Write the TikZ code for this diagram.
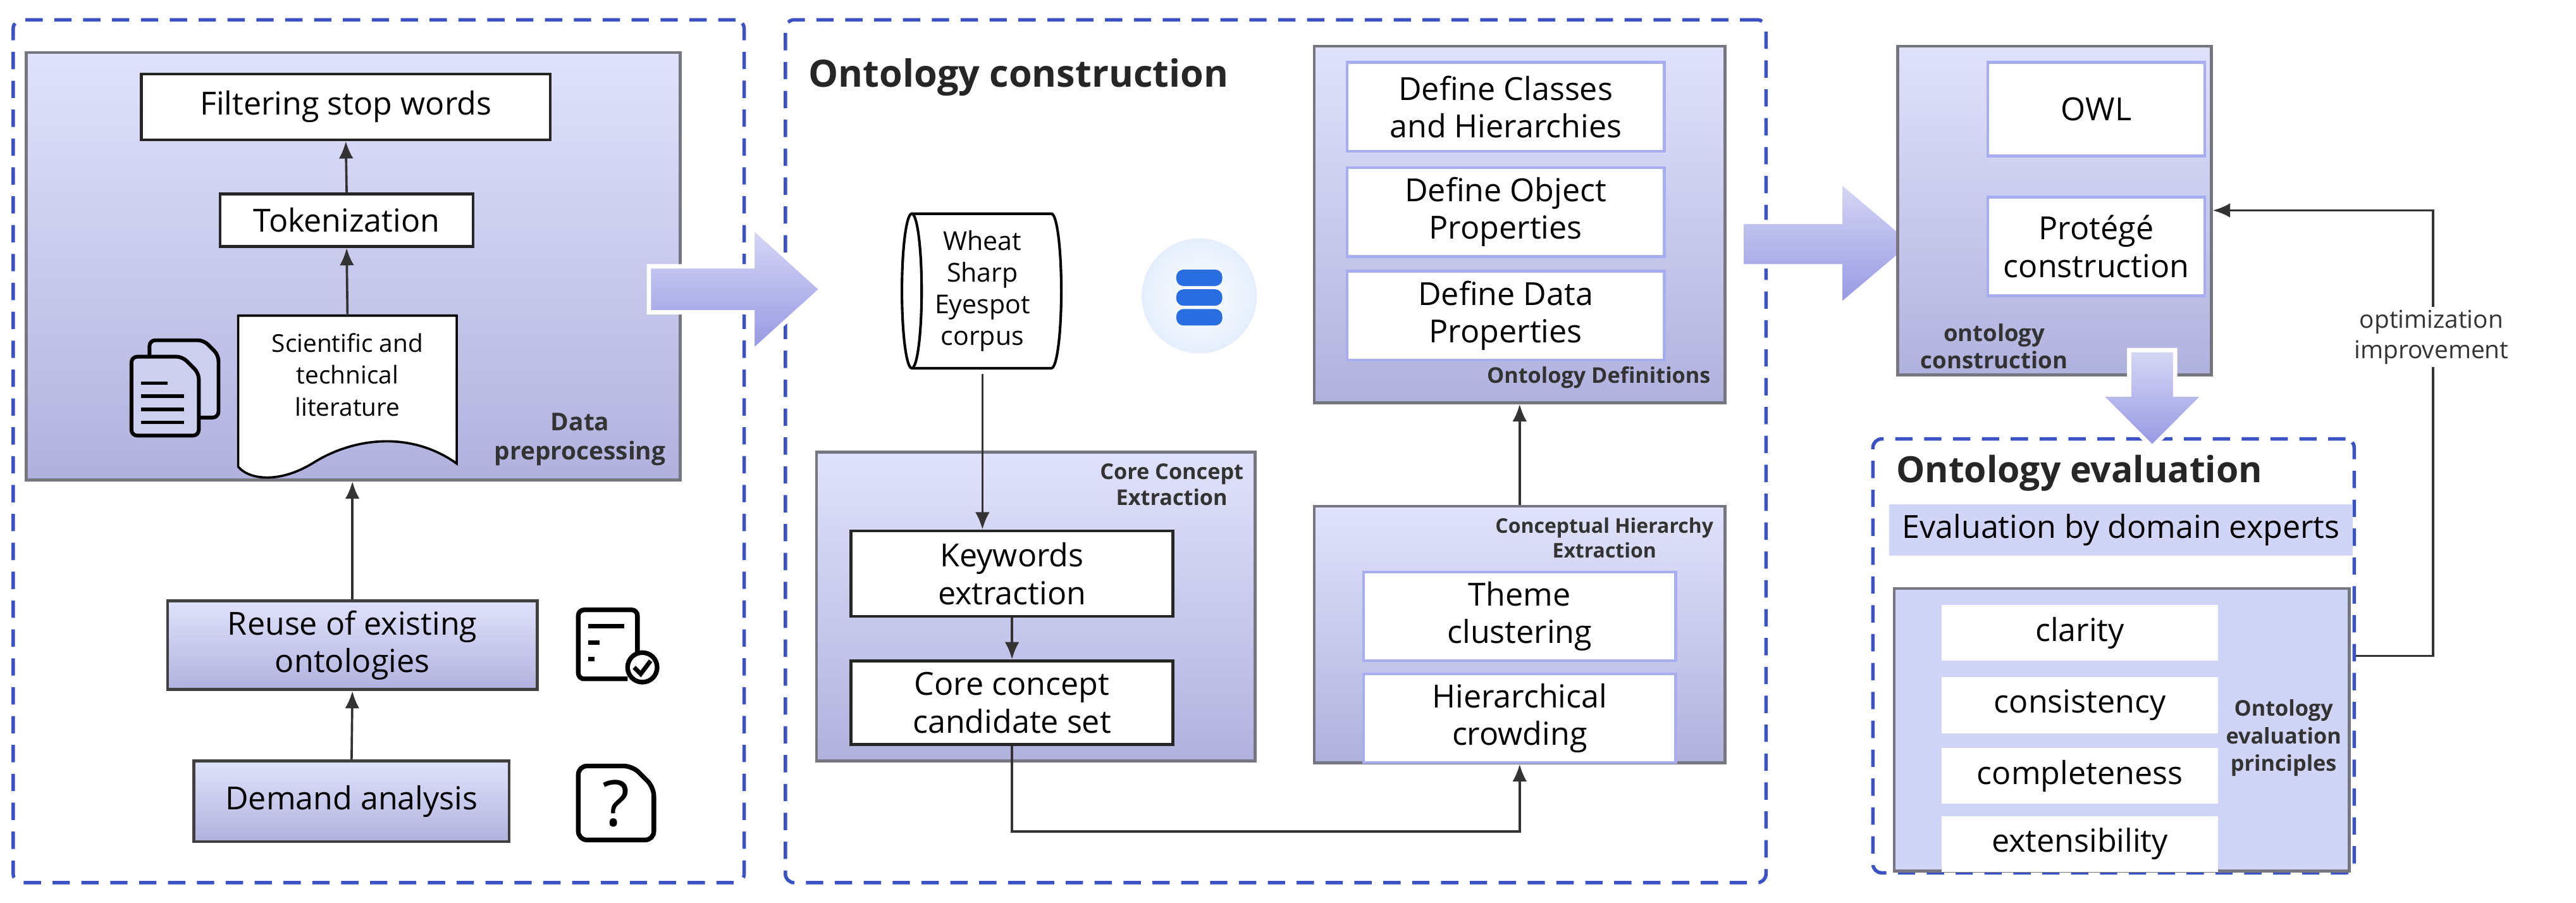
\documentclass[tikz,border=0pt]{standalone}
\usepackage{fontspec}
\setmainfont{Open Sans}
\usetikzlibrary{positioning,arrows.meta}
\definecolor{lavtop}{RGB}{224,226,251}
\definecolor{lavbot}{RGB}{176,178,222}
\definecolor{lavband}{RGB}{208,212,246}
\definecolor{framegray}{RGB}{118,118,128}
\definecolor{dashblue}{RGB}{58,82,196}
\definecolor{softblue}{RGB}{168,172,240}
\definecolor{dbblue}{RGB}{40,110,225}
\definecolor{dbback}{RGB}{228,238,252}
\tikzset{
  panel/.style={draw=dashblue, dashed, line width=1.2pt, rounded corners=3pt, dash pattern=on 6pt off 4pt},
  stage/.style={draw=framegray, line width=1pt, top color=lavtop, bottom color=lavbot},
  wbox/.style={draw=black!85, line width=1pt, fill=white, align=center, font=\fontsize{11}{13}\selectfont},
  gbox/.style={draw=black!75, line width=1pt, top color=lavtop, bottom color=lavbot, align=center, font=\fontsize{11}{13}\selectfont},
  sbox/.style={draw=softblue, line width=1pt, fill=white, align=center, font=\fontsize{11}{13}\selectfont},
  ibox/.style={fill=white, align=center, font=\fontsize{11}{13}\selectfont, minimum width=3.36cm, minimum height=0.68cm},
  tag/.style={font=\bfseries\fontsize{7.5}{9}\selectfont, align=center, text=black!80},
  arr/.style={-{Latex[length=6pt,width=5pt]}, line width=0.8pt, black!80},
  fat/.style={top color=lavtop!80!lavbot, bottom color=lavbot!85!blue, draw=white, line width=1.5pt}
}
\begin{document}
\begin{tikzpicture}[x=0.02cm, y=-0.02cm]
\useasboundingbox (0,0) rectangle (1568,549);
% panels
\node[panel, minimum width=8.9cm, minimum height=10.5cm] (leftpanel) at (230.5,274.5) {};
\node[panel, minimum width=11.94cm, minimum height=10.5cm] (midpanel) at (776.5,274.5) {};
\node[panel, minimum width=5.86cm, minimum height=5.28cm] (evalbox) at (1286.5,399) {};

% data preprocessing
\node[stage, minimum width=7.96cm, minimum height=5.2cm] (prep) at (215,162) {};
\node[tag, anchor=south east, font=\bfseries\fontsize{8.5}{10}\selectfont] at ([xshift=-2pt,yshift=2pt]prep.south east) {Data\\preprocessing};
\node[wbox, minimum width=4.98cm, minimum height=0.8cm] (filter) at (210.5,65) {Filtering stop words};
\node[wbox, minimum width=3.08cm, minimum height=0.64cm] (token) at (211,134) {Tokenization};
\node[minimum width=2.6cm, minimum height=1.6cm] (lit) at (211.5,228) {};
\draw[line width=0.8pt, fill=white] (145,192) -- (278,192) -- (278,282) .. controls (250,262) and (215,266) .. (190,282) .. controls (170,294) and (152,292) .. (145,284) -- cycle;
\node[align=center, font=\fontsize{8.5}{11}\selectfont] at (211.5,228) {Scientific and\\technical\\literature};
\draw[arr] (lit.north |- 0,192) -- (token.south);
\draw[arr] (token.north) -- (filter.south);
% document icon
\draw[line width=1.3pt, rounded corners=2pt, fill=lavtop!60!lavbot] (91,207) -- (124,207) -- (133,216) -- (133,254) -- (91,254) -- cycle;
\draw[line width=1.3pt, rounded corners=2pt, fill=lavtop!60!lavbot] (80,217) -- (111,217) -- (121,227) -- (121,265) -- (80,265) -- cycle;
\foreach \yy/\ww in {233/102, 241/112, 249/112, 257/112} \draw[line width=1.2pt] (86,\yy) -- (\ww,\yy);

\node[gbox, minimum width=4.5cm, minimum height=1.02cm] (reuse) at (214.5,392.5) {Reuse of existing\\ontologies};
\node[gbox, minimum width=3.84cm, minimum height=0.98cm] (demand) at (214,487.5) {Demand analysis};
\draw[arr] (demand.north) -- (reuse.south);
\draw[arr] (reuse.north) -- (reuse.north |- prep.south);
% checklist icon
\draw[line width=1.6pt, rounded corners=2pt] (388,398) -- (388,371) -- (352,371) -- (352,413) -- (382,413);
\foreach \yy/\ww in {381/380, 391/365, 401/362} \draw[line width=1.6pt] (358,\yy) -- (\ww,\yy);
\draw[line width=1.6pt, fill=white] (391,406) circle (9);
\draw[line width=1.5pt] (386,406) -- (390,410) -- (396,402);
% question icon
\draw[line width=1.6pt, rounded corners=3pt] (352,466) -- (385,466) -- (398,479) -- (398,511) -- (352,511) -- cycle;
\node[font=\fontsize{22}{24}\selectfont] at (375,489) {?};

% ontology construction
\node[anchor=west, font=\bfseries\fontsize{13}{15}\selectfont, text=black!85] at (486,47) {Ontology construction};
\node[align=center, font=\fontsize{9}{11}\selectfont, minimum width=1.9cm, minimum height=2cm] (corpus) at (598,177) {Wheat\\Sharp\\Eyespot\\corpus};
\draw[line width=0.9pt] (555,130) -- (640,130) arc (-90:90:6 and 47) -- (555,224);
\draw[line width=0.9pt] (555,177) ellipse (6 and 47);
% database icon
\shade[inner color=white, outer color=dbback] (730,180) circle (35);
\foreach \yy in {193,181,169} {
  \fill[dbblue, rounded corners=2.5pt] (716,\yy-5) rectangle (744,\yy+5);
}

\node[stage, minimum width=5.34cm, minimum height=3.76cm] (core) at (630.5,369) {};
\node[tag, anchor=north east] at ([xshift=-1pt,yshift=-1pt]core.north east) {Core Concept\\Extraction};
\node[wbox, minimum width=3.92cm, minimum height=1.04cm] (kw) at (616,349) {Keywords\\extraction};
\node[wbox, minimum width=3.92cm, minimum height=1.02cm] (cand) at (616,427.5) {Core concept\\candidate set};
\draw[arr] (corpus.south) -- (kw.north -| corpus.south);
\draw[arr] (kw.south) -- (cand.north);

\node[stage, minimum width=5cm, minimum height=3.12cm] (hier) at (925,386) {};
\node[tag, anchor=north east, font=\bfseries\fontsize{7}{8.5}\selectfont] at ([xshift=-1pt,yshift=-1pt]hier.north east) {Conceptual Hierarchy\\Extraction};
\node[sbox, minimum width=3.8cm, minimum height=1cm] (theme) at (925,375) {Theme\\clustering};
\node[sbox, minimum width=3.8cm, minimum height=1cm] (crowd) at (925,437) {Hierarchical\\crowding};
\draw[arr] (cand.south) -- ++(0,52) -| (hier.south);

\node[stage, minimum width=5cm, minimum height=4.34cm] (defs) at (925,136.5) {};
\node[tag, anchor=south east] at ([xshift=-2pt,yshift=2pt]defs.south east) {Ontology Definitions};
\node[sbox, minimum width=3.86cm, minimum height=1.08cm] (classes) at (916.5,65) {Define Classes\\and Hierarchies};
\node[sbox, minimum width=3.86cm, minimum height=1.08cm] (objprop) at (916.5,129) {Define Object\\Properties};
\node[sbox, minimum width=3.86cm, minimum height=1.08cm] (dataprop) at (916.5,192) {Define Data\\Properties};
\draw[arr] (hier.north) -- (defs.south);

% big arrows
\draw[fat] (395,162) -- (458,162) -- (458,138) -- (500,176) -- (458,214) -- (458,190) -- (395,190) -- cycle;
\draw[fat] (1060,135) -- (1120,135) -- (1120,110) -- (1165,148) -- (1120,186) -- (1120,162) -- (1060,162) -- cycle;

% ontology building
\node[stage, minimum width=3.82cm, minimum height=4cm] (okbox) at (1250.5,128) {};
\node[tag, anchor=south west, font=\bfseries\fontsize{8}{9.5}\selectfont] at ([xshift=5pt,yshift=-1pt]okbox.south west) {ontology\\construction};
\node[sbox, minimum width=2.64cm, minimum height=1.14cm] (owl) at (1276,66.5) {OWL};
\node[sbox, minimum width=2.64cm, minimum height=1.2cm] (protege) at (1276,150) {Protégé\\construction};
\draw[fat] (1296,213) -- (1324,213) -- (1324,240) -- (1342,240) -- (1310,272) -- (1278,240) -- (1296,240) -- cycle;

% evaluation
\node[anchor=west, font=\bfseries\fontsize{12.5}{15}\selectfont, text=black!85] at (1148,288) {Ontology evaluation};
\node[fill=lavband, minimum width=5.64cm, minimum height=0.58cm, font=\fontsize{11}{13}\selectfont] (experts) at (1291,322.5) {Evaluation by domain experts};
\node[draw=framegray, line width=1pt, fill=lavband, minimum width=5.54cm, minimum height=3.44cm] (princ) at (1291.5,444) {};
\node[ibox] (clarity) at (1266,385) {clarity};
\node[ibox] (consist) at (1266,429) {consistency};
\node[ibox] (complete) at (1266,472) {completeness};
\node[ibox] (extens) at (1266,513.5) {extensibility};
\node[tag, font=\bfseries\fontsize{7.5}{9.5}\selectfont] at (1390,449) {Ontology\\evaluation\\principles};

\draw[arr] (evalbox.east) -- ++(47,0) |- (okbox.east);
\node[fill=white, align=center, font=\fontsize{8.5}{10.5}\selectfont, text=black!80, inner sep=1pt] at (1480,205) {optimization\\improvement};
\end{tikzpicture}
\end{document}
